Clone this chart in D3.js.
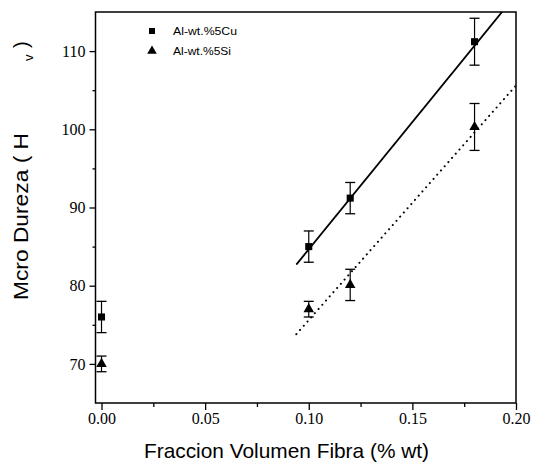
<!DOCTYPE html>
<html>
<head>
<meta charset="utf-8">
<script src="https://cdn.jsdelivr.net/npm/d3@7"></script>
<style>
  body { margin: 0; background: #fff; }
  svg { display: block; }
</style>
</head>
<body>
<div id="plot"></div>
<script>
// data
var fraccion = [0.00, 0.10, 0.12, 0.18];
var durezaCu = [76.0, 85.0, 91.2, 111.2];
var errorCu = [2.0, 2.0, 2.0, 3.0];
var durezaSi = [70.0, 77.0, 80.1, 100.3];
var errorSi = [1.0, 1.0, 2.0, 3.0];

// fitted lines (end points as drawn)
var fitCuX = [0.094, 0.200];
var fitCuY = [82.7, 117.2];
var fitSiX = [0.094, 0.200];
var fitSiY = [73.8, 105.6];

var xTicks = [0.00, 0.05, 0.10, 0.15, 0.20];
var xMinor = [0.025, 0.075, 0.125, 0.175];
var yTicks = [70, 80, 90, 100, 110];
var yMinor = [75, 85, 95, 105];
var legendLabels = ["Al-wt.%5Cu", "Al-wt.%5Si"];

var cuData = fraccion.map(function(d, i) { return {x: d, y: durezaCu[i], e: errorCu[i]}; });
var siData = fraccion.map(function(d, i) { return {x: d, y: durezaSi[i], e: errorSi[i]}; });
var cuFit = fitCuX.map(function(d, i) { return {x: d, y: fitCuY[i]}; });
var siFit = fitSiX.map(function(d, i) { return {x: d, y: fitSiY[i]}; });

var margin = {top: 12, right: 18, bottom: 65, left: 95.5};
var W = 534, H = 468;
var width = W - margin.left - margin.right,
  height = H - margin.top - margin.bottom;

var xScale = d3.scaleLinear().domain([-0.0029, 0.2]).range([0, width]);
var yScale = d3.scaleLinear().domain([65, 115]).range([height, 0]);

var svg = d3.select("#plot").append("svg")
  .attr("width", W)
  .attr("height", H);

svg.append("defs").append("clipPath")
  .attr("id", "clip")
  .append("rect")
  .attr("width", width)
  .attr("height", height);

var g = svg.append("g")
  .attr("transform", "translate(" + margin.left + "," + margin.top + ")");

// frame
g.append("rect")
  .attr("width", width)
  .attr("height", height)
  .attr("fill", "none")
  .attr("stroke", "#000")
  .attr("stroke-width", 1.5);

// axes
var xAxis = d3.axisBottom(xScale).tickValues(xTicks).tickSize(7).tickPadding(3)
  .tickFormat(d3.format(".2f"));
var yAxis = d3.axisLeft(yScale).tickValues(yTicks).tickSize(6).tickPadding(4)
  .tickFormat(d3.format("d"));

var gx = g.append("g")
  .attr("class", "x axis")
  .attr("transform", "translate(0," + height + ")")
  .call(xAxis);
var gy = g.append("g")
  .attr("class", "y axis")
  .call(yAxis);

g.append("g")
  .attr("transform", "translate(0," + height + ")")
  .call(d3.axisBottom(xScale).tickValues(xMinor).tickSize(4).tickFormat(""));
g.append("g")
  .call(d3.axisLeft(yScale).tickValues(yMinor).tickSize(3).tickFormat(""));

g.selectAll(".domain").remove();
g.selectAll(".tick line").attr("stroke", "#000").attr("stroke-width", 1.3);
g.selectAll(".tick text")
  .attr("fill", "#000")
  .style("font-family", "'Liberation Serif', 'Times New Roman', serif")
  .style("font-size", "16px");

// fit lines
var plotLine = d3.line()
  .x(function(d) { return xScale(d.x); })
  .y(function(d) { return yScale(d.y); });

g.append("path")
  .datum(cuFit)
  .attr("clip-path", "url(#clip)")
  .attr("d", plotLine)
  .attr("fill", "none")
  .attr("stroke", "#000")
  .attr("stroke-width", 1.8);

g.append("path")
  .datum(siFit)
  .attr("clip-path", "url(#clip)")
  .attr("d", plotLine)
  .attr("fill", "none")
  .attr("stroke", "#000")
  .attr("stroke-width", 2)
  .attr("stroke-linecap", "round")
  .attr("stroke-dasharray", "0.1,5.5");

// error bars
function errorBars(data) {
  var eb = g.append("g").selectAll("g").data(data).enter().append("g");
  eb.append("line")
    .attr("x1", function(d) { return xScale(d.x); })
    .attr("x2", function(d) { return xScale(d.x); })
    .attr("y1", function(d) { return yScale(d.y - d.e); })
    .attr("y2", function(d) { return yScale(d.y + d.e); })
    .attr("stroke", "#000").attr("stroke-width", 1.2);
  [-1, 1].forEach(function(s) {
    eb.append("line")
      .attr("x1", function(d) { return xScale(d.x) - 5; })
      .attr("x2", function(d) { return xScale(d.x) + 5; })
      .attr("y1", function(d) { return yScale(d.y + s * d.e); })
      .attr("y2", function(d) { return yScale(d.y + s * d.e); })
      .attr("stroke", "#000").attr("stroke-width", 1.3);
  });
}
errorBars(cuData);
errorBars(siData);

var square = d3.symbol().type(d3.symbolSquare).size(50);
var triangle = d3.symbol().type(d3.symbolTriangle).size(48);

g.append("g").selectAll("path").data(cuData).enter().append("path")
  .attr("d", square)
  .attr("transform", function(d) { return "translate(" + xScale(d.x) + "," + yScale(d.y) + ")"; })
  .attr("fill", "#000");

g.append("g").selectAll("path").data(siData).enter().append("path")
  .attr("d", triangle)
  .attr("transform", function(d) { return "translate(" + xScale(d.x) + "," + yScale(d.y) + ")"; })
  .attr("fill", "#000");

// legend
var legend = svg.append("g").attr("transform", "translate(152,31)");
legend.append("path").attr("d", d3.symbol().type(d3.symbolSquare).size(36)).attr("fill", "#000");
legend.append("path").attr("d", d3.symbol().type(d3.symbolTriangle).size(40))
  .attr("transform", "translate(0,20)").attr("fill", "#000");
legend.selectAll("text").data(legendLabels).enter().append("text")
  .attr("x", 21)
  .attr("y", function(d, i) { return i * 20 + 4; })
  .attr("textLength", function(d, i) { return i ? 58 : 64; })
  .attr("lengthAdjust", "spacingAndGlyphs")
  .style("font-family", "'Liberation Sans', Arial, sans-serif")
  .style("font-size", "11px")
  .text(function(d) { return d; });

// axis titles
var titleFont = "'Liberation Sans', Arial, sans-serif";
svg.append("text")
  .attr("x", 144)
  .attr("y", 458)
  .attr("textLength", 285)
  .attr("lengthAdjust", "spacingAndGlyphs")
  .style("font-family", titleFont)
  .style("font-size", "21px")
  .text("Fraccion Volumen Fibra (% wt)");

var yTitle = svg.append("g").attr("transform", "translate(28,0) rotate(-90)");
yTitle.append("text")
  .attr("x", -300)
  .attr("y", 0)
  .attr("textLength", 167)
  .attr("lengthAdjust", "spacingAndGlyphs")
  .style("font-family", titleFont)
  .style("font-size", "20px")
  .text("Mcro Dureza ( H");
yTitle.append("text")
  .attr("x", -61)
  .attr("y", 5)
  .style("font-family", titleFont)
  .style("font-size", "13px")
  .text("v");
yTitle.append("text")
  .attr("x", -48)
  .attr("y", 0)
  .style("font-family", titleFont)
  .style("font-size", "20px")
  .text(")");
</script>
</body>
</html>
